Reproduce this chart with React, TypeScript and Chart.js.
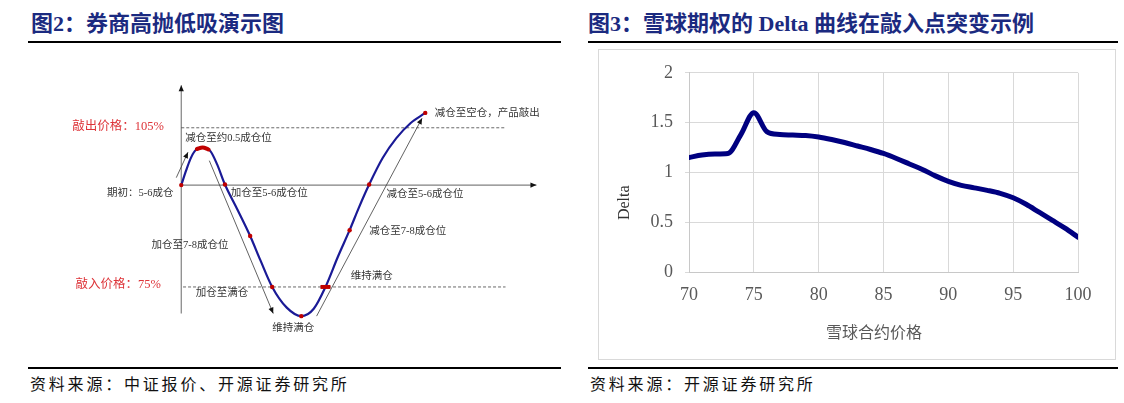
import React, { useEffect, useRef } from "react";
import { Chart, registerables } from "chart.js";

Chart.register(...registerables);

// ===================== 图2：券商高抛低吸演示图 =====================
const pathTime = [0, 1.4, 2.5, 3.8, 6.0, 8.2, 10.1, 12.3, 15.8, 19.4, 22.3, 25.6, 29.7, 33.8, 37.3, 40.6, 44.1, 47.4, 50.1, 52.9, 56.7, 60.5, 64.6, 68.7];
const pathPrice = [94.2, 97.0, 99.0, 100.6, 101.3, 100.6, 98.1, 94.3, 89.6, 84.6, 80.0, 75.0, 71.1, 69.5, 70.9, 75.0, 80.7, 85.7, 90.1, 94.3, 99.3, 103.0, 105.9, 107.8];
const eventTime = [0, 12.3, 19.4, 25.6, 33.8, 47.4, 52.9, 68.7];
const eventPrice = [94.2, 94.3, 84.6, 75.0, 69.5, 85.7, 94.3, 107.8];
const peakTime = [4.4, 6.0, 7.7];
const peakPrice = [101.0, 101.3, 100.9];
const reboundTime = [40.6];
const reboundPrice = [75.0];
const knockOutLevel = 105;
const knockInLevel = 75;
const initialLevel = 94.2;
const timeAxisEnd = 100;
const barrierLineEnd = 91.3;
const priceAxisLow = 70;
const priceAxisHigh = 113;
const trendFromTime = [-1.4, 7.9, 38.1];
const trendFromPrice = [95.6, 98.8, 69.5];
const trendToTime = [1.9, 25.9, 67.8];
const trendToPrice = [100.4, 70.0, 106.8];
const noteTexts = [
  "敲出价格：105%",
  "减仓至约0.5成仓位",
  "期初：5-6成仓",
  "加仓至5-6成仓位",
  "加仓至7-8成仓位",
  "敲入价格：75%",
  "加仓至满仓",
  "维持满仓",
  "维持满仓",
  "减仓至7-8成仓位",
  "减仓至5-6成仓位",
  "减仓至空仓，产品敲出",
];
const noteTime = [-4.9, 1.1, -2.2, 13.9, -8.4, -5.7, 4.1, 25.6, 47.7, 52.9, 57.8, 71.4];
const notePrice = [105.2, 103.0, 92.75, 92.75, 82.8, 75.5, 73.8, 67.2, 77.1, 85.5, 92.4, 107.7];
const noteAlign = ["right", "left", "right", "left", "left", "right", "left", "left", "left", "left", "left", "left"];
const noteRed = [true, false, false, false, false, true, false, false, false, false, false, false];

// ===================== 图3：雪球期权的 Delta 曲线 =====================
const contractPrice = [70, 71, 72, 73, 74, 75, 76, 77, 78, 79, 80, 81, 82, 83, 84, 85, 86, 87, 88, 89, 90, 91, 92, 93, 94, 95, 96, 97, 98, 99, 100];
const deltaValue = [1.15, 1.175, 1.185, 1.19, 1.38, 1.6, 1.41, 1.38, 1.375, 1.37, 1.355, 1.33, 1.3, 1.265, 1.23, 1.19, 1.14, 1.085, 1.03, 0.965, 0.91, 0.87, 0.845, 0.82, 0.79, 0.745, 0.68, 0.6, 0.52, 0.44, 0.35];
const xAxisTitle = "雪球合约价格";
const yAxisTitle = "Delta";

const SERIF = '"Liberation Serif", "Times New Roman", "Noto Sans CJK SC", serif';
const NAVY = "#1B2A80";

const pts = (xs: number[], ys: number[]) => xs.map((x, i) => ({ x, y: ys[i] }));

function drawHead(ctx: CanvasRenderingContext2D, x1: number, y1: number, x2: number, y2: number, color: string, len: number, wid: number) {
  const a = Math.atan2(y2 - y1, x2 - x1);
  const c = Math.cos(a), s = Math.sin(a);
  ctx.save();
  ctx.fillStyle = color;
  ctx.beginPath();
  ctx.moveTo(x2, y2);
  ctx.lineTo(x2 - len * c + wid * s, y2 - len * s - wid * c);
  ctx.lineTo(x2 - len * c - wid * s, y2 - len * s + wid * c);
  ctx.closePath();
  ctx.fill();
  ctx.restore();
}

const leftDecor = {
  id: "leftDecor",
  afterDatasetsDraw(chart: any) {
    const { ctx } = chart;
    const x = chart.scales.x, y = chart.scales.y;
    chart.data.datasets.forEach((ds: any) => {
      if (!ds.arrow) return;
      const d = ds.data;
      const a = d[d.length - 2], b = d[d.length - 1];
      drawHead(ctx, x.getPixelForValue(a.x), y.getPixelForValue(a.y), x.getPixelForValue(b.x), y.getPixelForValue(b.y), "#111", 6, 2.6);
    });
    ctx.save();
    ctx.textBaseline = "middle";
    noteTexts.forEach((t, i) => {
      ctx.font = noteRed[i] ? `12.5px ${SERIF}` : `10.5px ${SERIF}`;
      ctx.fillStyle = noteRed[i] ? "#DD3338" : "#333333";
      ctx.textAlign = noteAlign[i] as CanvasTextAlign;
      ctx.fillText(t, x.getPixelForValue(noteTime[i]), y.getPixelForValue(notePrice[i]));
    });
    ctx.restore();
  },
};

const rightTitles = {
  id: "rightTitles",
  afterDraw(chart: any) {
    const { ctx, chartArea } = chart;
    ctx.save();
    ctx.textAlign = "center";
    ctx.textBaseline = "middle";
    ctx.fillStyle = "#595959";
    ctx.font = `16px ${SERIF}`;
    ctx.fillText(xAxisTitle, chartArea.left + 185, chartArea.bottom + 62);
    ctx.translate(chartArea.left - 64, chartArea.top + 130);
    ctx.rotate(-Math.PI / 2);
    ctx.fillStyle = "#333333";
    ctx.font = `16px ${SERIF}`;
    ctx.fillText(yAxisTitle, 0, 0);
    ctx.restore();
  },
};

function LeftChart() {
  const ref = useRef<HTMLCanvasElement>(null);
  useEffect(() => {
    const arrows = trendFromTime.map((_, i) => ({
      data: [
        { x: trendFromTime[i], y: trendFromPrice[i] },
        { x: trendToTime[i], y: trendToPrice[i] },
      ],
      borderColor: "#3a3a3a",
      borderWidth: 0.8,
      pointRadius: 0,
      arrow: true,
    }));
    const chart = new Chart(ref.current!, {
      type: "line",
      data: {
        datasets: [
          { data: pts(eventTime, eventPrice), showLine: false, pointRadius: 2.2, pointBackgroundColor: "#C00000", pointBorderWidth: 0 } as any,
          { data: pts(reboundTime, reboundPrice), showLine: false, pointStyle: "line", pointRadius: 5, pointBorderWidth: 4, pointBorderColor: "#C00000" },
          { data: pts(peakTime, peakPrice), borderColor: "#C00000", borderWidth: 4, cubicInterpolationMode: "monotone", pointRadius: 0, borderCapStyle: "round" },
          { data: pts(pathTime, pathPrice), borderColor: "#1A1A96", borderWidth: 2.2, cubicInterpolationMode: "monotone", pointRadius: 0 },
          ...arrows,
          { data: [{ x: 0, y: knockOutLevel }, { x: barrierLineEnd, y: knockOutLevel }], borderColor: "#444", borderWidth: 0.8, borderDash: [3, 2], pointRadius: 0 },
          { data: [{ x: 0.5, y: knockInLevel }, { x: barrierLineEnd, y: knockInLevel }], borderColor: "#444", borderWidth: 0.8, borderDash: [3, 2], pointRadius: 0 },
          { data: [{ x: 0, y: priceAxisLow }, { x: 0, y: priceAxisHigh }], borderColor: "#808080", borderWidth: 1.2, pointRadius: 0, arrow: true },
          { data: [{ x: 0, y: initialLevel }, { x: timeAxisEnd, y: initialLevel }], borderColor: "#808080", borderWidth: 1.2, pointRadius: 0, arrow: true },
        ] as any,
      },
      options: {
        animation: false,
        responsive: false,
        events: [],
        layout: { padding: 0 },
        plugins: { legend: { display: false }, tooltip: { enabled: false } },
        scales: {
          x: { type: "linear", min: -48.5, max: 104.1, display: false },
          y: { type: "linear", min: 62.93, max: 117.96, display: false },
        },
      },
      plugins: [leftDecor],
    });
    return () => chart.destroy();
  }, []);
  return <canvas ref={ref} width={560} height={310} style={{ position: "absolute", left: 0, top: 50, width: 560, height: 310 }} />;
}

function RightChart() {
  const ref = useRef<HTMLCanvasElement>(null);
  useEffect(() => {
    const tickFont = { family: SERIF, size: 18 };
    const chart = new Chart(ref.current!, {
      type: "line",
      data: {
        datasets: [
          {
            data: pts(contractPrice, deltaValue),
            borderColor: "#000080",
            borderWidth: 5,
            pointRadius: 0,
            cubicInterpolationMode: "monotone",
            borderCapStyle: "round",
            borderJoinStyle: "round",
          },
        ],
      },
      options: {
        animation: false,
        responsive: false,
        events: [],
        layout: { padding: { top: 22, right: 37, left: 0, bottom: 0 } },
        plugins: { legend: { display: false }, tooltip: { enabled: false } },
        scales: {
          x: {
            type: "linear",
            min: 70,
            max: 100,
            afterFit: (s: any) => { s.height = 87; },
            ticks: { stepSize: 5, color: "#595959", font: tickFont, padding: 12, maxRotation: 0, callback: (v: any) => String(v) },
            grid: { color: "#d9d9d9", drawTicks: false, lineWidth: 1 },
            border: { color: "#c8c8c8", width: 1 },
          },
          y: {
            type: "linear",
            min: 0,
            max: 2,
            afterFit: (s: any) => { s.width = 90; },
            ticks: { stepSize: 0.5, color: "#595959", font: tickFont, padding: 12, callback: (v: any) => String(Number(v)) },
            grid: { color: "#d9d9d9", drawTicks: true, tickLength: 4, lineWidth: 1 },
            border: { color: "#c8c8c8", width: 1 },
          },
        },
      },
      plugins: [rightTitles],
    });
    return () => chart.destroy();
  }, []);
  return <canvas ref={ref} width={516} height={309} style={{ display: "block", width: 516, height: 309 }} />;
}

const titleStyle: React.CSSProperties = {
  position: "absolute",
  top: 12,
  fontFamily: SERIF,
  fontWeight: 700,
  fontSize: 22,
  lineHeight: "24px",
  color: NAVY,
  whiteSpace: "nowrap",
};
const sourceStyle: React.CSSProperties = {
  position: "absolute",
  top: 375,
  fontFamily: SERIF,
  fontSize: 16,
  lineHeight: "20px",
  letterSpacing: "2.8px",
  color: "#111",
  whiteSpace: "nowrap",
};
const rule = (left: number, top: number, width: number): React.CSSProperties => ({
  position: "absolute",
  left,
  top,
  width,
  height: 2,
  background: "#000",
});

export default function App() {
  return (
    <div style={{ position: "fixed", left: 0, top: 0, width: 1124, height: 403, background: "#fff", overflow: "hidden" }}>
      <div style={{ ...titleStyle, left: 31 }}>图2：券商高抛低吸演示图</div>
      <div style={{ ...titleStyle, left: 588 }}>图3：雪球期权的 Delta 曲线在敲入点突变示例</div>
      <div style={rule(28, 41, 533)} />
      <div style={rule(588, 41, 530)} />
      <LeftChart />
      <div style={{ position: "absolute", left: 598, top: 49, width: 518, height: 311, border: "1px solid #d9d9d9", boxSizing: "border-box" }}>
        <RightChart />
      </div>
      <div style={rule(28, 367, 533)} />
      <div style={rule(588, 367, 530)} />
      <div style={{ ...sourceStyle, left: 30 }}>资料来源：中证报价、开源证券研究所</div>
      <div style={{ ...sourceStyle, left: 590 }}>资料来源：开源证券研究所</div>
    </div>
  );
}
